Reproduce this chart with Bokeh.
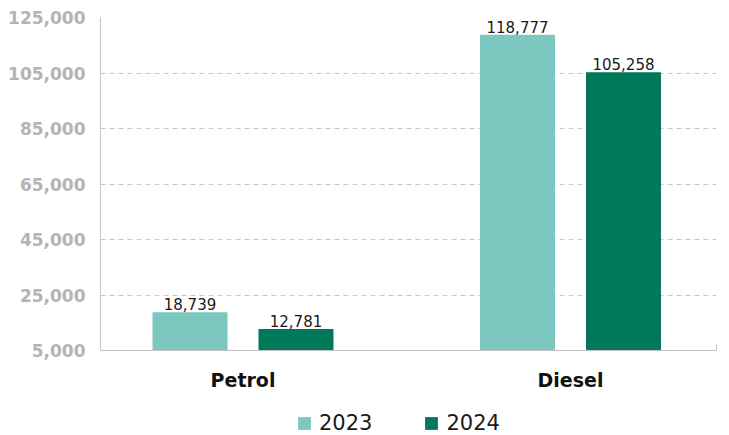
from bokeh.plotting import figure
from bokeh.models import (ColumnDataSource, Range1d, FixedTicker, NumeralTickFormatter,
                          Legend, LegendItem, LabelSet)
from bokeh.layouts import column
from bokeh.core.properties import value
from bokeh.transform import dodge
from bokeh.embed import file_html
from bokeh.resources import INLINE

categories = ["Petrol", "Diesel"]
years = ["2023", "2024"]
values_2023 = [18739, 118777]
values_2024 = [12781, 105258]
y_ticks = [5000, 25000, 45000, 65000, 85000, 105000, 125000]

colors = {"2023": "#7CC7BF", "2024": "#00795A"}

xpos = [i + 0.5 for i in range(len(categories))]
src = ColumnDataSource(dict(
    x=xpos, cat=categories,
    v2023=values_2023, v2024=values_2024,
    l2023=[f"{v:,}" for v in values_2023],
    l2024=[f"{v:,}" for v in values_2024],
))

FONT = "DejaVu Sans"

p = figure(output_backend="svg", toolbar_location=None,
           x_range=Range1d(0.0649, 1.9458), y_range=Range1d(y_ticks[0], y_ticks[-1]),
           frame_width=616, frame_height=333,
           min_border_left=100, min_border_top=17, min_border_right=5, min_border_bottom=38)
p.outline_line_color = None
p.background_fill_color = None
p.border_fill_color = None

bw = 0.229
off = 0.1618
p.vbar(x=dodge("x", -off, range=p.x_range), top="v2023", bottom=y_ticks[0], width=bw,
       source=src, color=colors["2023"], line_color=None)
p.vbar(x=dodge("x", off, range=p.x_range), top="v2024", bottom=y_ticks[0], width=bw,
       source=src, color=colors["2024"], line_color=None)

for key, dx in (("2023", -off), ("2024", off)):
    ls = LabelSet(x=dodge("x", dx, range=p.x_range), y="v" + key, text="l" + key, source=src,
                  text_align="center", text_baseline="bottom", y_offset=2,
                  text_font=value(FONT), text_font_size=value("15px"), text_color="#1a1a1a")
    p.add_layout(ls)

# axes
p.yaxis.ticker = FixedTicker(ticks=y_ticks)
p.yaxis.formatter = NumeralTickFormatter(format="0,0")
p.yaxis.major_label_text_font = FONT
p.yaxis.major_label_text_font_size = "17px"
p.yaxis.major_label_text_font_style = "bold"
p.yaxis.major_label_text_color = "#b4b4b4"
p.yaxis.axis_line_color = "#c4c4c4"
p.yaxis.major_tick_line_color = None
p.yaxis.minor_tick_line_color = None
p.yaxis.major_label_standoff = 9

p.xaxis.ticker = FixedTicker(ticks=xpos, minor_ticks=[p.x_range.end])
p.xaxis.major_label_overrides = {x: c for x, c in zip(xpos, categories)}
p.xaxis.major_label_text_font = FONT
p.xaxis.major_label_text_font_size = "19px"
p.xaxis.major_label_text_font_style = "bold"
p.xaxis.major_label_text_color = "#111111"
p.xaxis.axis_line_color = "#c4c4c4"
p.xaxis.major_tick_line_color = None
p.xaxis.minor_tick_in = 6
p.xaxis.minor_tick_out = 0
p.xaxis.minor_tick_line_color = "#c4c4c4"
p.xaxis.major_label_standoff = 12

p.xgrid.grid_line_color = None
p.ygrid.grid_line_color = "#c8c8c8"
p.ygrid.grid_line_dash = "5 4"
p.ygrid.ticker = FixedTicker(ticks=y_ticks[1:])

# legend strip below the chart (its key renderers have zero height, so draw nothing)
lg = figure(output_backend="svg", toolbar_location=None, width=721, height=47,
            x_range=Range1d(0, 1), y_range=Range1d(0, 1),
            min_border_left=0, min_border_right=0, min_border_top=0, min_border_bottom=0)
lg.axis.visible = False
lg.grid.grid_line_color = None
lg.outline_line_color = None
lg.background_fill_color = None
lg.border_fill_color = None
k1 = lg.vbar(x="x", top=0, bottom=0, width=0, source=src,
             color=colors["2023"], line_color=None)
k2 = lg.vbar(x="x", top=0, bottom=0, width=0, source=src,
             color=colors["2024"], line_color=None)

legend = Legend(items=[LegendItem(label=years[0], renderers=[k1]),
                       LegendItem(label=years[1], renderers=[k2])],
                orientation="horizontal", location=(196, 5),
                label_text_font=FONT, label_text_font_size="21px", label_text_color="#1a1a1a",
                glyph_width=16, glyph_height=16, label_standoff=7, spacing=51,
                padding=0, margin=0, border_line_color=None, background_fill_color=None)
lg.add_layout(legend, "center")

layout = column(p, lg, spacing=0)
open("out.html", "w").write(file_html(layout, INLINE))
